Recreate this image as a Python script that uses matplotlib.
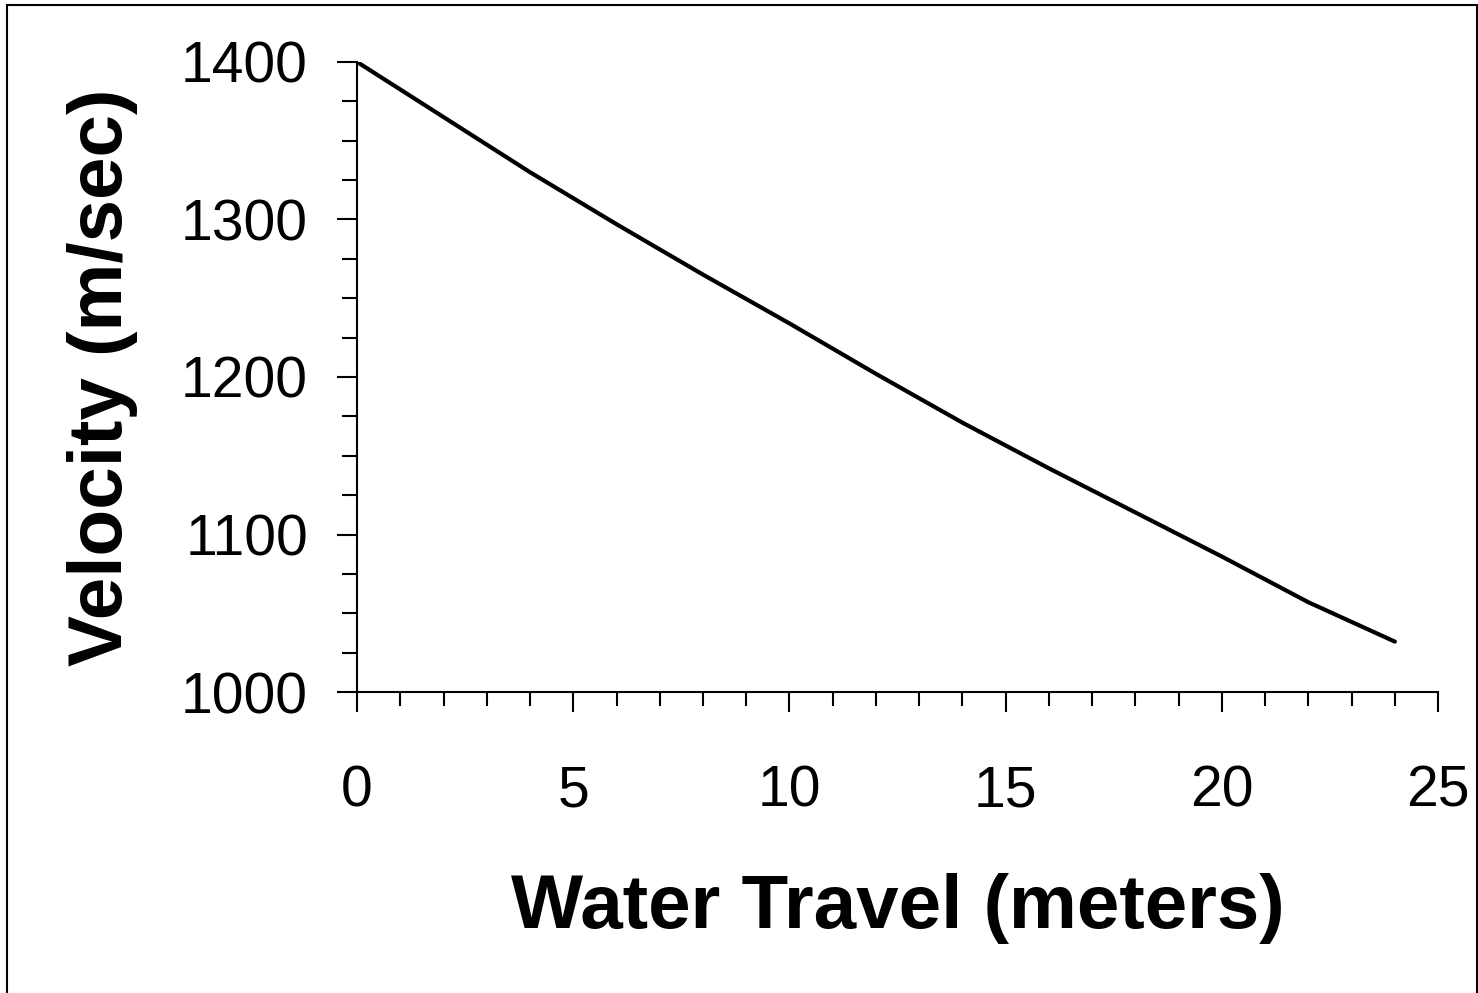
import matplotlib
matplotlib.use("Agg")
import matplotlib.pyplot as plt
from matplotlib.patches import Rectangle
from matplotlib.ticker import MultipleLocator

# water travel (m) vs velocity (m/s)
travel_m = [0, 2, 4, 6, 8, 10, 12, 14, 16, 18, 20, 22, 24]
velocity = [1400, 1365, 1330, 1297, 1265, 1234, 1202, 1171, 1142, 1114, 1086, 1057, 1032]

plt.rcParams["font.family"] = ["Liberation Sans", "DejaVu Sans"]

fig = plt.figure(figsize=(14.78, 9.93), dpi=100)
ax = fig.add_axes([0.2416, 0.3031, 0.7314, 0.6345])

ax.plot(travel_m, velocity, color="black", linewidth=3.0, solid_capstyle="round")

ax.set_xlim(0, 25)
ax.set_ylim(1000, 1400)
ax.xaxis.set_major_locator(MultipleLocator(5))
ax.xaxis.set_minor_locator(MultipleLocator(1))
ax.yaxis.set_major_locator(MultipleLocator(100))
ax.yaxis.set_minor_locator(MultipleLocator(25))

for side in ("top", "right"):
    ax.spines[side].set_visible(False)
for side in ("left", "bottom"):
    ax.spines[side].set_linewidth(1.5)

ax.tick_params(axis="both", which="both", direction="out", width=1.5, color="black")
ax.tick_params(axis="x", which="major", length=14.4, pad=38, labelsize=41)
ax.tick_params(axis="x", which="minor", length=10)
ax.tick_params(axis="y", which="major", length=14.4, pad=21, labelsize=41)
ax.tick_params(axis="y", which="minor", length=11)

ax.set_xlabel("Water Travel (meters)", fontsize=55, fontweight="bold", va="baseline")
ax.xaxis.set_label_coords(0.5, -0.3746)
ax.set_ylabel("Velocity (m/sec)", fontsize=55, fontweight="bold", va="baseline")
ax.yaxis.set_label_coords(-0.2174, 0.5)

# outer frame like the original chart area border
fig.patches.append(Rectangle((7 / 1478, -0.01), 1470 / 1478, 0.01 + 988 / 993,
                             transform=fig.transFigure, fill=False,
                             edgecolor="black", linewidth=1.5))

fig.savefig("out.png", dpi=100)
